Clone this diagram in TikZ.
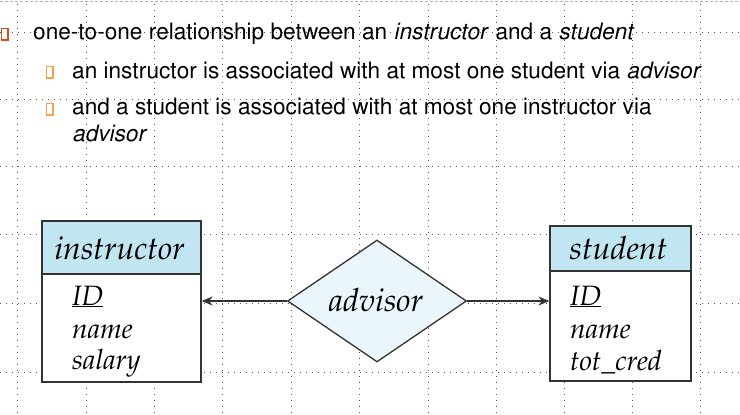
\documentclass[tikz,border=0pt]{standalone}
\usepackage[T1]{fontenc}
\usepackage{xcolor}
\usepackage{tikz}
\usetikzlibrary{shapes,arrows,positioning,calc,arrows.meta}

\definecolor{headblue}{RGB}{193,230,241}
\definecolor{diablue}{RGB}{234,246,251}
\definecolor{bulletred}{RGB}{214,78,30}
\definecolor{bulletorange}{RGB}{247,164,72}
\definecolor{edgegray}{RGB}{51,51,51}
\definecolor{gridgray}{RGB}{90,90,90}

\newcommand{\slidefont}{\fontfamily{phv}\selectfont}
\newcommand{\erfont}{\fontfamily{ppl}\selectfont\itshape}

\begin{document}
\begin{tikzpicture}[
    x=1pt, y=-1pt,
    gridline/.style={gridgray, line width=0.8pt, dash pattern=on 0.8pt off 5.2pt},
    bulletbox/.style={draw, line width=1.5pt, fill=white, minimum width=6.5pt, minimum height=11.5pt, inner sep=0pt},
    slidetext/.style={anchor=base west, inner sep=0pt, font=\slidefont\fontsize{22.6}{26}\selectfont},
    enthead/.style={draw=edgegray, line width=1.3pt, fill=headblue, inner sep=0pt},
    entbody/.style={draw=edgegray, line width=1.3pt, fill=white, inner sep=0pt},
    attr/.style={anchor=base west, inner sep=0pt, font=\erfont\fontsize{28}{32}\selectfont},
    title/.style={anchor=base, inner sep=0pt, font=\erfont\fontsize{32}{36}\selectfont},
    relship/.style={diamond, draw=edgegray, line width=1.3pt, fill=diablue, inner sep=0pt, minimum width=179pt, minimum height=122pt},
    link/.style={edgegray, line width=1.3pt, -{Stealth[length=11pt, width=9pt]}}
]
    \useasboundingbox (0,0) rectangle (740,415);
    \fill[white] (0,0) rectangle (740,415);

    % slide grid
    \foreach \gx in {17,86,154,222,291,359,428,496,564,632,700}
        \draw[gridline] (\gx,4) -- (\gx,415);
    \foreach \gy in {32,99,166,234,303,372}
        \draw[gridline] (0,\gy) -- (740,\gy);
    \draw[gray!60, line width=1pt, dash pattern=on 3pt off 2pt] (0,1) -- (740,1);

    % bullet text
    \node[bulletbox, draw=bulletred] (b1) at (4.5,34) {};
    \node[slidetext] (t1) at (33,39) {one-to-one relationship between an \textit{instructor} and a \textit{student}};
    \node[bulletbox, draw=bulletorange] (b2) at (49.5,72) {};
    \node[slidetext] (t2) at (72,78) {an instructor is associated with at most one student via \textit{advisor}};
    \node[bulletbox, draw=bulletorange] (b3) at (49.5,109) {};
    \node[slidetext] (t3) at (72,114) {and a student is associated with at most one instructor via};
    \node[slidetext] (t4) at (72,141) {\textit{advisor}};

    % instructor entity
    \node[enthead, minimum width=159pt, minimum height=53pt] (insthead) at (121.5,247.5) {};
    \node[title] (instname) at (119.5,259) {instructor};
    \node[entbody, minimum width=159pt, minimum height=108pt] (instbody) at (121.5,328) {};
    \node[attr] (instid) at (72,305) {\underline{ID}};
    \node[attr] (instnm) at (72,338) {name};
    \node[attr] (instsal) at (72,369) {salary};

    % student entity
    \node[enthead, minimum width=141pt, minimum height=45pt] (studhead) at (620.5,248.5) {};
    \node[title] (studname) at (618.5,259) {student};
    \node[entbody, minimum width=141pt, minimum height=110pt] (studbody) at (620.5,326) {};
    \node[attr] (studid) at (570,305) {\underline{ID}};
    \node[attr] (studnm) at (570,338) {name};
    \node[attr] (studcred) at (570,370) {tot\_cred};

    % relationship
    \node[relship] (advisor) at (377,301) {};
    \node[title] (advname) at (376,311) {advisor};
    \draw[link] (advisor.west) -- (advisor.west -| instbody.east);
    \draw[link] (advisor.east) -- (advisor.east -| studbody.west);
\end{tikzpicture}
\end{document}
